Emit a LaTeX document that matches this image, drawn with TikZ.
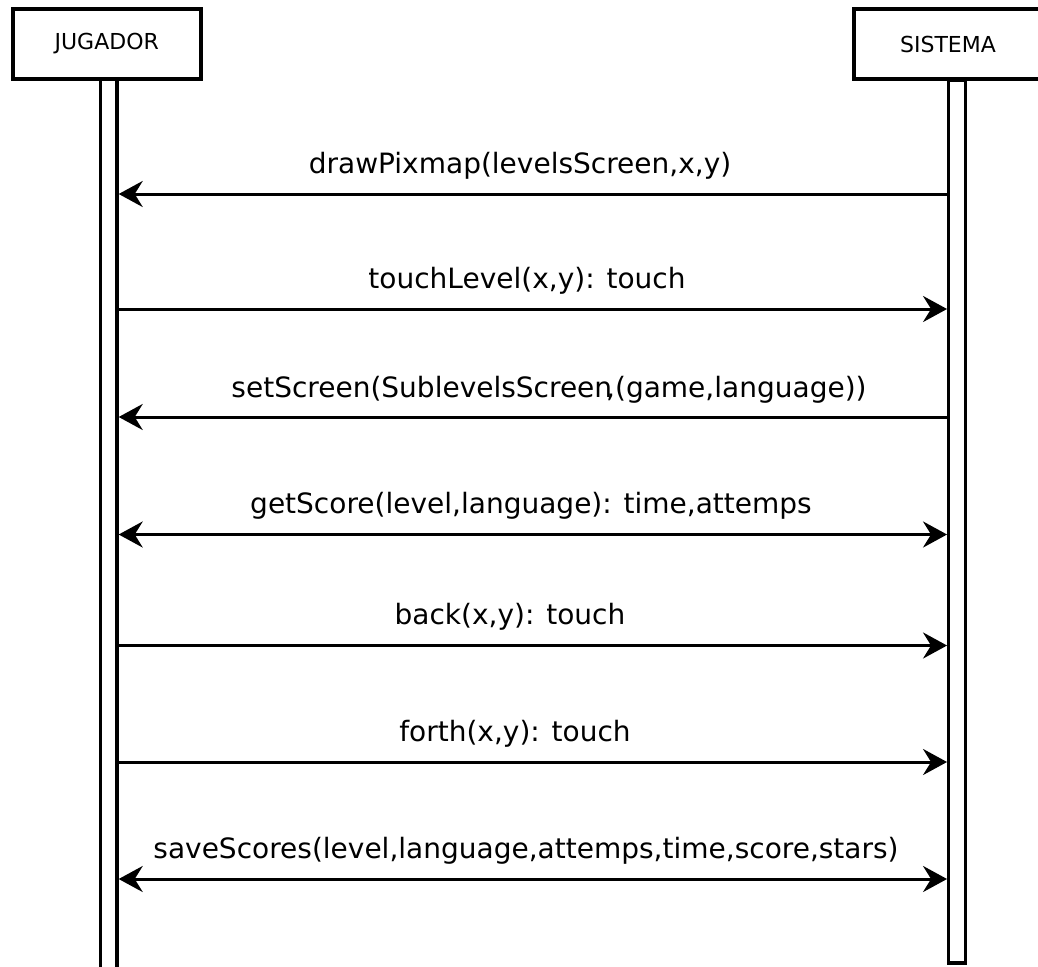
\documentclass[tikz,border=0pt]{standalone}
\usepackage{fontspec}
\setmainfont{DejaVu Sans}
\usetikzlibrary{arrows.meta}
\begin{document}
\begin{tikzpicture}[x=1pt,y=-1pt,
  actor/.style={draw, line width=4pt, fill=white, inner sep=0pt,
    minimum width=188pt, minimum height=70pt, font=\fontsize{22}{26}\selectfont},
  lifeline/.style={draw, line width=3.4pt, fill=white, inner sep=0pt, minimum width=16.5pt},
  msg/.style={line width=3pt},
  tip/.tip={Stealth[length=24pt,width=26pt,inset=8pt]},
  lbl/.style={anchor=base, inner sep=0pt, font=\fontsize{28}{32}\selectfont}]
\useasboundingbox (0,0) rectangle (1038,966);
\clip (0,0) rectangle (1038,966);

% lifelines
\node[lifeline, minimum height=900pt] (pbar) at (108.75,529) {};
\node[lifeline, minimum height=883pt] (sbar) at (957,521.5) {};

% actors
\node[actor] (player) at (106.75,44) {JUGADOR};
\node[actor] (system) at (948,44) {SISTEMA};

% messages
\draw[msg,-tip] (sbar.west |- 0,194) -- (pbar.east |- 0,194);
\node[lbl] (m1) at (520,173) {drawPixmap(levelsScreen,x,y)};

\draw[msg,-tip] (pbar.east |- 0,309) -- (sbar.west |- 0,309);
\node[lbl] (m2) at (527,288) {touchLevel(x,y): touch};

\draw[msg,-tip] (sbar.west |- 0,417) -- (pbar.east |- 0,417);
\node[lbl] (m3) at (549,397) {setScreen(SublevelsScreen\kern-6pt,(game,language))};

\draw[msg,tip-tip] (pbar.east |- 0,534.5) -- (sbar.west |- 0,534.5);
\node[lbl] (m4) at (531,513) {getScore(level,language): time,attemps};

\draw[msg,-tip] (pbar.east |- 0,645.5) -- (sbar.west |- 0,645.5);
\node[lbl] (m5) at (510,624) {back(x,y): touch};

\draw[msg,-tip] (pbar.east |- 0,762) -- (sbar.west |- 0,762);
\node[lbl] (m6) at (515,741) {forth(x,y): touch};

\draw[msg,tip-tip] (pbar.east |- 0,879) -- (sbar.west |- 0,879);
\node[lbl] (m7) at (526,858) {saveScores(level,language,attemps,time,score,stars)};
\end{tikzpicture}
\end{document}
